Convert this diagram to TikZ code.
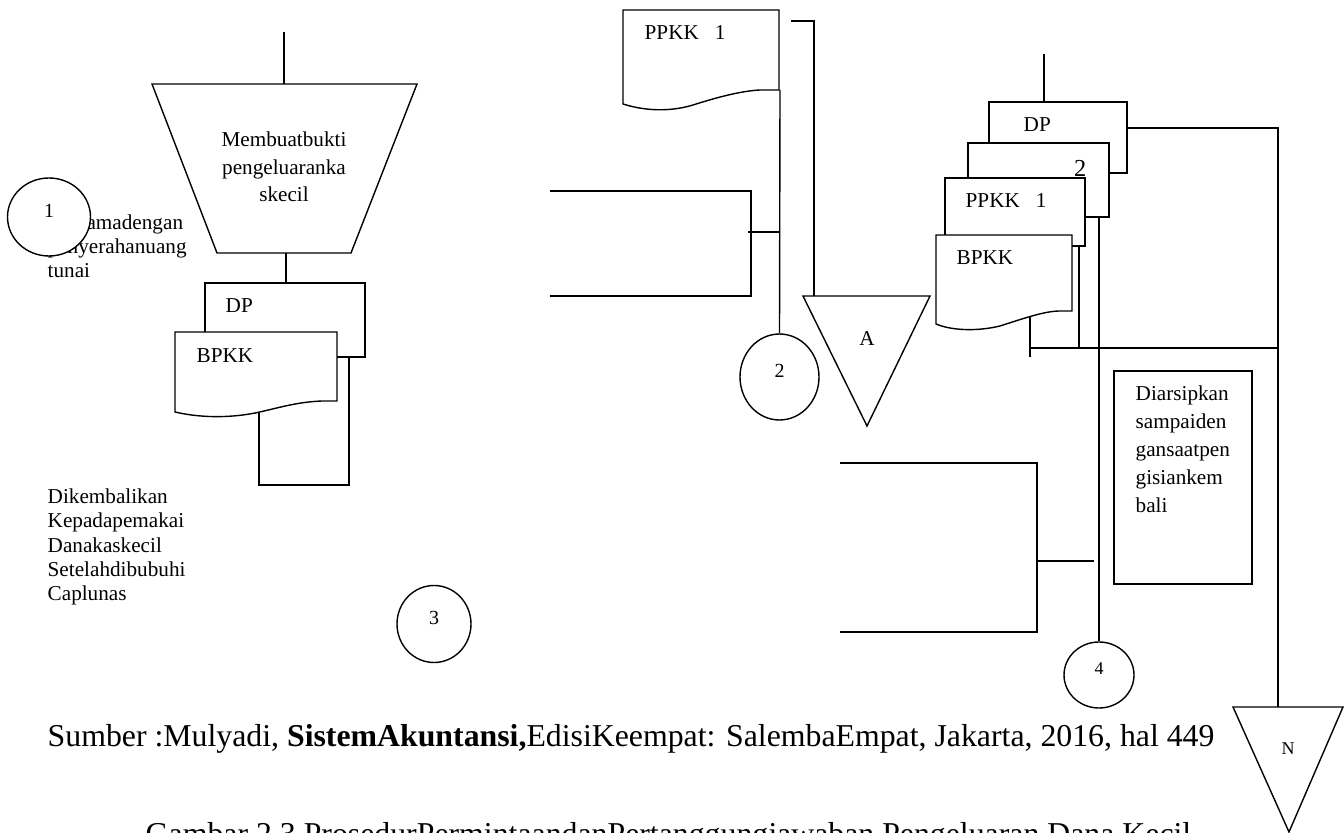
\documentclass[tikz,border=0pt]{standalone}
\usepackage{fontspec}
\setmainfont{Liberation Serif}
\usetikzlibrary{shapes.geometric}

\begin{document}
\begin{tikzpicture}[x=0.5pt,y=-0.5pt,line width=0.7pt,
    lbl/.style={anchor=base west,inner sep=0pt,font=\fontsize{10.6}{12.2}\selectfont},
    conn/.style={draw,ellipse,inner sep=0pt,text depth=6pt,font=\fontsize{10}{12}\selectfont},
    captxt/.style={anchor=base west,inner sep=0pt,font=\fontsize{15.9}{19}\selectfont}]
    \useasboundingbox (0,0) rectangle (1344,833);

    % left: manual operation and documents
    \coordinate (in1) at (284,32);
    \coordinate (op1t) at (284,84);
    \coordinate (op1b) at (286,253);
    \coordinate (dp1t) at (286,283);
    \draw (152,84) -- (417,84) -- (351,253) -- (217,253) -- cycle;
    \node[lbl,anchor=base,align=center,font=\fontsize{10.6}{13.75}\selectfont] (op1) at (284,202)
        {Membuatbukti\\pengeluaranka\\skecil};
    \draw[-] (in1) -- (op1t);
    \draw[-] (op1b) -- (dp1t);
    \draw (205,332) -- (205,283) -- (365,283) -- (365,357) -- (337,357);
    \draw (337,332) -- (175,332) -- (175,412) .. controls (205,419) and (235,417) .. (255,413)
        .. controls (275,409) and (295,402) .. (322,401) -- (337,401) -- cycle;
    \node[lbl] (dp1) at (225,313) {DP};
    \node[lbl] (bpkk1) at (196,363) {BPKK};
    \coordinate (bpkk1b) at (259,413);
    \coordinate (dp1b) at (349,358);
    \draw[-] (bpkk1b) -- (259,485) -- (349,485) -- (dp1b);

    \node[lbl,anchor=base west,align=left] (txt1) at (47,278) {Bersamadengan\\penyerahanuang\\tunai};
    \node[conn,fill=white,minimum width=41.5pt,minimum height=39pt] (c1) at (49,217) {1};
    \node[lbl,anchor=base west,align=left] (txt2) at (47,601)
        {Dikembalikan\\Kepadapemakai\\Danakaskecil\\Setelahdibubuhi\\Caplunas};
    \node[conn,minimum width=37pt,minimum height=38.5pt] (c3) at (434,624) {3};

    % middle
    \draw (550,191) -- (751,191) -- (751,296) -- (550,296);
    \coordinate (br1) at (748,232);
    \coordinate (v1) at (780,232);
    \draw[-] (br1) -- (v1);
    \draw (779,90) -- (779,10) -- (623,10) -- (623,104) .. controls (645,111) and (670,112) .. (693,105)
        .. controls (715,98) and (740,91) .. (760,90) -- cycle;
    \node[lbl] (ppkk1) at (644,40) {PPKK\ \ \ 1};
    \coordinate (ppkk1b) at (780,90);
    \node[conn,minimum width=39.5pt,minimum height=43pt] (c2) at (779.5,377) {2};
    \draw[-] (ppkk1b) -- (c2.north);
    \coordinate (ppkk1r) at (791,21);
    \coordinate (fa) at (814,296);
    \draw[-] (ppkk1r) -- (814,21) -- (fa);
    \draw (803,296) -- (930,296) -- (867,426) -- cycle;
    \node[lbl,anchor=base] (a) at (867,346) {A};

    % right: document stack
    \coordinate (in2) at (1044,54);
    \coordinate (dp2t) at (1044,102);
    \draw[-] (in2) -- (dp2t);
    \draw (989,143) -- (989,102) -- (1127,102) -- (1127,173) -- (1109,173);
    \draw (968,178) -- (968,143) -- (1109,143) -- (1109,217) -- (1085,217);
    \draw (945,235) -- (945,178) -- (1085,178) -- (1085,246) -- (1072,246);
    \draw (1072,235) -- (936,235) -- (936,324) .. controls (950,330) and (975,332) .. (1000,326)
        .. controls (1025,318) and (1045,311) .. (1060,311) -- (1072,311) -- cycle;
    \node[lbl] (dp2) at (1023,132) {DP};
    \node[lbl,anchor=base east,font=\fontsize{12.2}{14}\selectfont] (n2) at (1087,177) {2};
    \node[lbl] (ppkk2) at (965,208) {PPKK\ \ \ 1};
    \node[lbl] (bpkk2) at (956,265) {BPKK};

    \coordinate (dp2r) at (1127,128);
    \coordinate (doc2b) at (1099,217);
    \coordinate (ppkk2b) at (1079,246);
    \coordinate (bpkk2b) at (1030,317);
    \coordinate (j1) at (1079,348);
    \coordinate (j2) at (1278,348);
    \node[conn,minimum width=35pt,minimum height=33pt,font=\fontsize{9}{11}\selectfont] (c4) at (1099,675) {4};
    \draw (1233,707) -- (1343,707) -- (1289,832) -- cycle;
    \coordinate (fn) at (1278,707);
    \node[lbl,anchor=base,font=\fontsize{9}{11}\selectfont] (n) at (1288,754) {N};
    \draw[-] (dp2r) -- (1278,128) -- (fn);
    \draw[-] (doc2b) -- (c4.north);
    \draw[-] (ppkk2b) -- (j1);
    \draw[-] (bpkk2b) -- (1030,357);
    \draw[-] (1030,348) -- (j2);

    \draw (1114,371) rectangle (1252,584);
    \node[lbl,anchor=base west,align=left,font=\fontsize{10.6}{14}\selectfont] (arsip) at (1135,513)
        {Diarsipkan\\sampaiden\\gansaatpen\\gisiankem\\bali};

    \draw (840,463) -- (1037,463) -- (1037,632) -- (840,632);
    \coordinate (br2) at (1037,561);
    \coordinate (v2) at (1094,561);
    \draw[-] (br2) -- (v2);

    % captions
    \node[captxt] (src) at (47,746)
        {Sumber :Mulyadi, \textbf{SistemAkuntansi,}EdisiKeempat: SalembaEmpat, Jakarta, 2016, hal 449};
    \node[captxt] (fig) at (145,844)
        {Gambar 2.3 ProsedurPermintaandanPertanggungjawaban Pengeluaran Dana Kecil};
\end{tikzpicture}
\end{document}
